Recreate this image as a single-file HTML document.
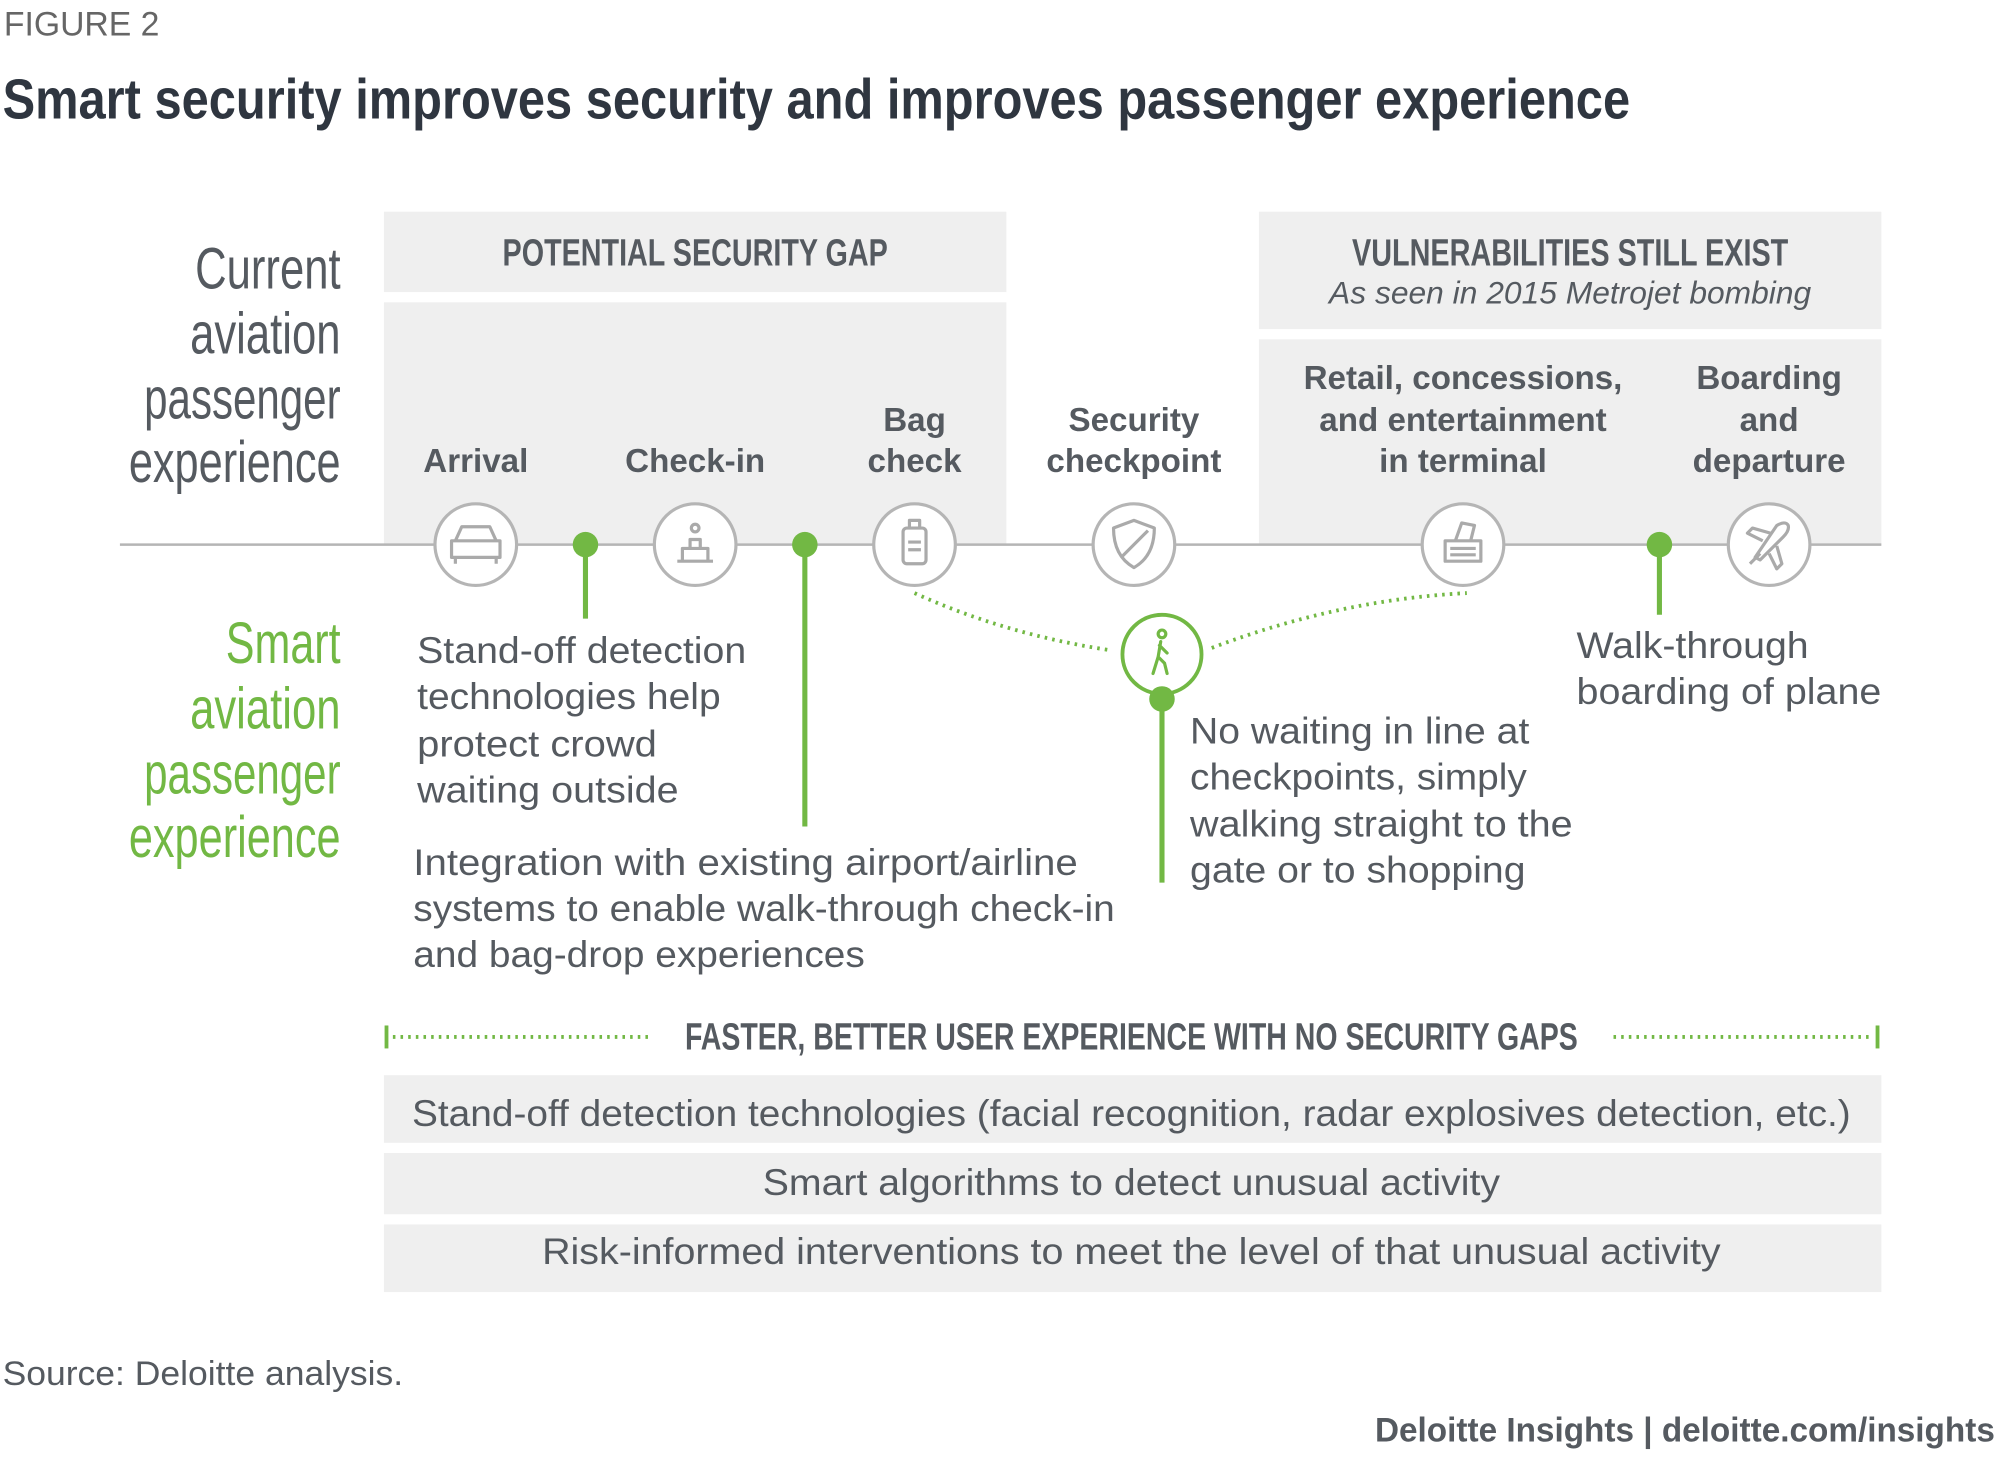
<!DOCTYPE html>
<html><head><meta charset="utf-8"><style>
html,body{margin:0;padding:0;background:#fff;}
svg{display:block;}
text{font-family:"Liberation Sans",sans-serif;}
</style></head><body>
<svg width="2000" height="1477" viewBox="0 0 1568 1158" xmlns="http://www.w3.org/2000/svg">
<g fill="#555a60">
<text x="3" y="28" font-size="27" textLength="122" lengthAdjust="spacingAndGlyphs" fill="#666">FIGURE 2</text>
<text x="2" y="93" font-size="44" font-weight="bold" fill="#2f3640" textLength="1276" lengthAdjust="spacingAndGlyphs">Smart security improves security and improves passenger experience</text>
</g>
<g fill="#efefef">
<rect x="301" y="166" width="488" height="63"/>
<rect x="301" y="237" width="488" height="190"/>
<rect x="987" y="166" width="488" height="92"/>
<rect x="987" y="266" width="488" height="161"/>
</g>
<text x="545" y="208" font-size="30" font-weight="bold" fill="#555a60" text-anchor="middle" textLength="302" lengthAdjust="spacingAndGlyphs">POTENTIAL SECURITY GAP</text>
<text x="1231" y="208" font-size="30" font-weight="bold" fill="#555a60" text-anchor="middle" textLength="342" lengthAdjust="spacingAndGlyphs">VULNERABILITIES STILL EXIST</text>
<text x="1231" y="238" font-size="25" font-style="italic" fill="#555a60" text-anchor="middle" textLength="378" lengthAdjust="spacingAndGlyphs">As seen in 2015 Metrojet bombing</text>
<g font-size="46" fill="#555a60" text-anchor="end">
<text x="267" y="226" textLength="114" lengthAdjust="spacingAndGlyphs">Current</text>
<text x="267" y="277" textLength="118" lengthAdjust="spacingAndGlyphs">aviation</text>
<text x="267" y="328" textLength="154" lengthAdjust="spacingAndGlyphs">passenger</text>
<text x="267" y="378" textLength="166" lengthAdjust="spacingAndGlyphs">experience</text>
</g>
<g font-size="46" fill="#72b844" text-anchor="end">
<text x="267" y="520" textLength="90" lengthAdjust="spacingAndGlyphs">Smart</text>
<text x="267" y="571" textLength="118" lengthAdjust="spacingAndGlyphs">aviation</text>
<text x="267" y="622" textLength="154" lengthAdjust="spacingAndGlyphs">passenger</text>
<text x="267" y="672" textLength="166" lengthAdjust="spacingAndGlyphs">experience</text>
</g>
<g font-size="26" fill="#555a60" text-anchor="middle" font-weight="bold">
<text x="373" y="370">Arrival</text>
<text x="545" y="370">Check-in</text>
<g><text x="717" y="338">Bag</text><text x="717" y="370">check</text></g>
<g><text x="889" y="338">Security</text><text x="889" y="370">checkpoint</text></g>
<g><text x="1147" y="305">Retail, concessions,</text><text x="1147" y="338">and entertainment</text><text x="1147" y="370">in terminal</text></g>
<g><text x="1387" y="305">Boarding</text><text x="1387" y="338">and</text><text x="1387" y="370">departure</text></g>
</g>
<line x1="94" y1="427" x2="1475" y2="427" stroke="#b5b5b5" stroke-width="2"/>
<path d="M717 465 Q790 498 872 510" fill="none" stroke="#72b844" stroke-width="3" stroke-dasharray="2 4"/>
<path d="M950 508 Q1050 470 1150 465" fill="none" stroke="#72b844" stroke-width="3" stroke-dasharray="2 4"/>
<g stroke="#72b844" stroke-width="4">
<line x1="459" y1="427" x2="459" y2="485"/>
<line x1="631" y1="427" x2="631" y2="648"/>
<line x1="1301" y1="427" x2="1301" y2="482"/>
<line x1="911" y1="548" x2="911" y2="692"/>
</g>
<g fill="#72b844">
<circle cx="459" cy="427" r="10"/>
<circle cx="631" cy="427" r="10"/>
<circle cx="1301" cy="427" r="10"/>
</g>
<g fill="#fff" stroke="#b5b5b5" stroke-width="2.5">
<circle cx="373" cy="427" r="32"/>
<circle cx="545" cy="427" r="32"/>
<circle cx="717" cy="427" r="32"/>
<circle cx="889" cy="427" r="32"/>
<circle cx="1147" cy="427" r="32"/>
<circle cx="1387" cy="427" r="32"/>
</g>
<g fill="none" stroke="#aaa" stroke-width="2.5" stroke-linejoin="round">
<path d="M357 424 L362 413 H384 L389 424 M354 424 H392 V437 H354 Z M357 437 V442 M389 437 V442"/>
<path d="M531 440 H559 M535 440 V430 H555 V440 M541 430 V423 H549 V430"/><circle cx="545" cy="414" r="3"/>
<rect x="708" y="414" width="18" height="28" rx="3"/><path d="M713 414 V408 H721 V414 M712 425 H722 M712 431 H722"/>
<path d="M889 408 L905 414 Q905 436 889 445 Q873 436 873 414 Z M880 436 L900 416"/>
<path d="M1133 440 H1161 V424 H1133 Z M1137 430 H1157 M1137 435 H1157 M1141 424 L1146 410 L1156 412 L1153 424"/>
<path d="M1372 442 L1380 434 M1393 412 Q1400 408 1402 412 Q1403 416 1398 421 L1380 439 L1376 437 Z M1388 418 L1374 414 L1370 418 L1382 424 M1393 428 L1397 442 L1393 446 L1387 434"/>
</g>
<circle cx="911" cy="513" r="31" fill="#fff" stroke="#72b844" stroke-width="3"/>
<g fill="none" stroke="#72b844" stroke-width="2.5" stroke-linecap="round">
<circle cx="911" cy="497" r="3"/><path d="M910 503 L908 515 L904 528 M908 515 L913 520 L915 528 M909 506 L915 512"/>
</g>
<circle cx="911" cy="548" r="10" fill="#72b844"/>
<g font-size="29" fill="#555a60">
<g><text x="327" y="520" textLength="258" lengthAdjust="spacingAndGlyphs">Stand-off detection</text><text x="327" y="556" textLength="238" lengthAdjust="spacingAndGlyphs">technologies help</text><text x="327" y="593" textLength="188" lengthAdjust="spacingAndGlyphs">protect crowd</text><text x="327" y="629" textLength="205" lengthAdjust="spacingAndGlyphs">waiting outside</text></g>
<g><text x="324" y="686" textLength="521" lengthAdjust="spacingAndGlyphs">Integration with existing airport/airline</text><text x="324" y="722" textLength="550" lengthAdjust="spacingAndGlyphs">systems to enable walk-through check-in</text><text x="324" y="758" textLength="354" lengthAdjust="spacingAndGlyphs">and bag-drop experiences</text></g>
<g><text x="933" y="583" textLength="266" lengthAdjust="spacingAndGlyphs">No waiting in line at</text><text x="933" y="619" textLength="264" lengthAdjust="spacingAndGlyphs">checkpoints, simply</text><text x="933" y="656" textLength="300" lengthAdjust="spacingAndGlyphs">walking straight to the</text><text x="933" y="692" textLength="263" lengthAdjust="spacingAndGlyphs">gate or to shopping</text></g>
<g><text x="1236" y="516" textLength="182" lengthAdjust="spacingAndGlyphs">Walk-through</text><text x="1236" y="552" textLength="239" lengthAdjust="spacingAndGlyphs">boarding of plane</text></g>
</g>
<g stroke="#72b844" stroke-width="3">
<line x1="303" y1="804" x2="303" y2="822"/><line x1="1472" y1="804" x2="1472" y2="822"/>
<line x1="308" y1="813" x2="510" y2="813" stroke-dasharray="2 4"/>
<line x1="1265" y1="813" x2="1468" y2="813" stroke-dasharray="2 4"/>
</g>
<text x="887" y="823" font-size="30" font-weight="bold" fill="#555a60" text-anchor="middle" textLength="700" lengthAdjust="spacingAndGlyphs">FASTER, BETTER USER EXPERIENCE WITH NO SECURITY GAPS</text>
<g fill="#efefef">
<rect x="301" y="843" width="1174" height="53"/>
<rect x="301" y="904" width="1174" height="48"/>
<rect x="301" y="960" width="1174" height="53"/>
</g>
<g font-size="29" fill="#555a60" text-anchor="middle">
<text x="887" y="883" textLength="1128" lengthAdjust="spacingAndGlyphs">Stand-off detection technologies (facial recognition, radar explosives detection, etc.)</text>
<text x="887" y="937" textLength="578" lengthAdjust="spacingAndGlyphs">Smart algorithms to detect unusual activity</text>
<text x="887" y="991" textLength="924" lengthAdjust="spacingAndGlyphs">Risk-informed interventions to meet the level of that unusual activity</text>
</g>
<text x="2" y="1086" font-size="27" fill="#555a60" textLength="314" lengthAdjust="spacingAndGlyphs">Source: Deloitte analysis.</text>
<text x="1564" y="1130" font-size="27" fill="#555a60" font-weight="bold" text-anchor="end" textLength="486" lengthAdjust="spacingAndGlyphs">Deloitte Insights | deloitte.com/insights</text>
</svg>
</body></html>
